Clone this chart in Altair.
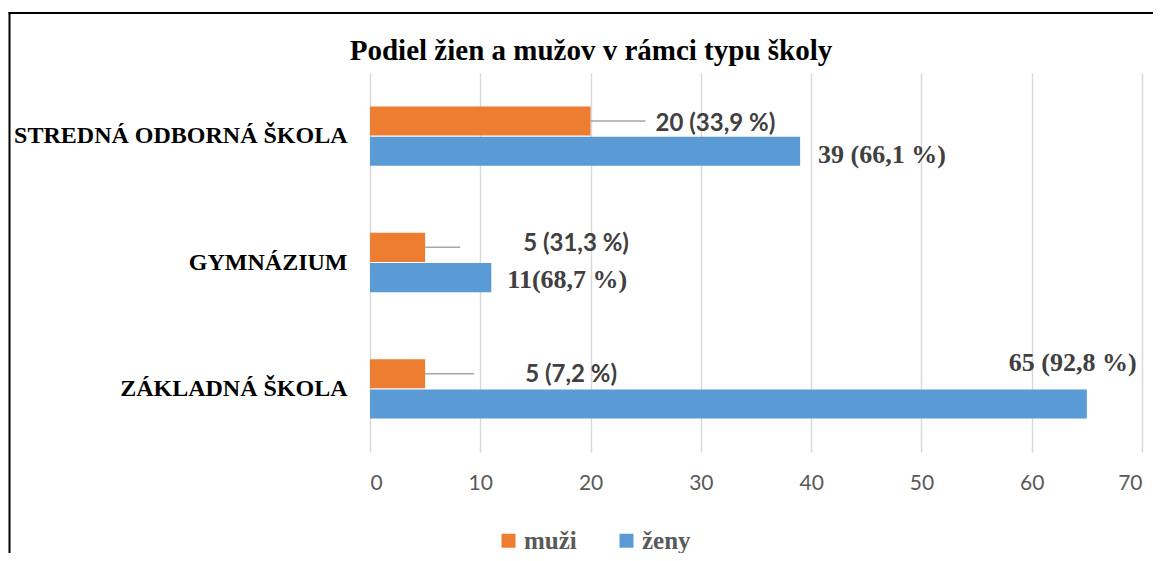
import altair as alt
import pandas as pd

# ---- data ----
categories = ["STREDNÁ ODBORNÁ ŠKOLA", "GYMNÁZIUM", "ZÁKLADNÁ ŠKOLA"]
series = ["muži", "ženy"]
muzi_values = [20, 5, 5]
zeny_values = [39, 11, 65]
muzi_labels = ["20 (33,9 %)", "5 (31,3 %)", "5 (7,2 %)"]
zeny_labels = ["39 (66,1 %)", "11(68,7 %)", "65 (92,8 %)"]
x_ticks = [0, 10, 20, 30, 40, 50, 60, 70]
title_text = "Podiel žien a mužov v rámci typu školy"

rows = []
for i, c in enumerate(categories):
    rows.append({"cat": c, "series": "muži", "value": muzi_values[i], "label": muzi_labels[i]})
    rows.append({"cat": c, "series": "ženy", "value": zeny_values[i], "label": zeny_labels[i]})
df = pd.DataFrame(rows)

# ---- style ----
COLORS = ["#ED7D31", "#5B9BD5"]
PLOT_W, PLOT_H = 772, 379
# label offsets (pixels) relative to bar end / bar centre
LABEL_OFFSETS = {
    (categories[0], "muži"): (65, 3),
    (categories[0], "ženy"): (18, 4),
    (categories[1], "muži"): (98, -3),
    (categories[1], "ženy"): (16, 2),
    (categories[2], "muži"): (100, 1),
    (categories[2], "ženy"): (-78, -41),
}
LEADER_LEN = {categories[0]: 55, categories[1]: 35, categories[2]: 49}
LEADER_DY = {categories[0]: 1, categories[1]: -4, categories[2]: 0}

y_enc = alt.Y("cat:N", sort=categories, title=None,
              scale=alt.Scale(paddingInner=0.53, paddingOuter=0.265),
              axis=alt.Axis(labelFont="Liberation Serif", labelFontWeight="bold",
                            labelFontSize=24, labelColor="#000000", labelPadding=23,
                            ticks=False, domain=False, grid=False, labelLimit=500))
yoff_enc = alt.YOffset("series:N", sort=series,
                       scale=alt.Scale(paddingInner=0.04, paddingOuter=0))
x_enc = alt.X("value:Q", title=None,
              scale=alt.Scale(domain=[0, 70], nice=False),
              axis=alt.Axis(values=x_ticks, grid=True, gridColor="#d9d9d9", gridWidth=1.5,
                            domain=False, ticks=False, labelFont="Lato", labelFontSize=21,
                            labelColor="#595959", labelPadding=20))

base = alt.Chart(df)

bars = base.mark_bar().encode(
    x=x_enc,
    y=y_enc,
    yOffset=yoff_enc,
    color=alt.Color("series:N", sort=series,
                    scale=alt.Scale(domain=series, range=COLORS),
                    legend=alt.Legend(title=None, orient="none", legendX=126, legendY=455,
                                      direction="horizontal", symbolType="square",
                                      symbolSize=196, symbolStrokeWidth=0,
                                      labelFont="Liberation Serif", labelFontWeight="bold",
                                      labelFontSize=25, labelColor="#595959",
                                      columnPadding=37, labelOffset=3, padding=0)),
)

layers = [bars]

# leader lines for muži labels
for c in categories:
    layers.append(
        base.transform_filter((alt.datum.cat == c) & (alt.datum.series == "muži"))
        .mark_rule(color="#a6a6a6", strokeWidth=1.5, x2Offset=LEADER_LEN[c],
                   yOffset=LEADER_DY[c], y2Offset=LEADER_DY[c])
        .encode(x="value:Q", x2="value:Q", y=alt.Y("cat:N", sort=categories),
                yOffset=alt.YOffset("series:N", sort=series))
    )

# data labels
for (c, s), (dx, dy) in LABEL_OFFSETS.items():
    if s == "muži":
        font, size = "Lato", 24
    else:
        font, size = "Liberation Serif", 26
    layers.append(
        base.transform_filter((alt.datum.cat == c) & (alt.datum.series == s))
        .mark_text(align="left", baseline="middle", dx=dx, dy=dy, font=font,
                   fontSize=size, fontWeight="bold", color="#404040")
        .encode(x="value:Q", y=alt.Y("cat:N", sort=categories),
                yOffset=alt.YOffset("series:N", sort=series), text="label:N")
    )

one_row = pd.DataFrame({"t": [title_text]})

# chart title
layers.append(alt.Chart(one_row).mark_text(
    font="Liberation Serif", fontSize=29, fontWeight="bold", color="#000000",
    align="center", baseline="alphabetic").encode(
    x=alt.value(221), y=alt.value(-13), text="t:N"))

# outer frame (left and top border)
layers.append(alt.Chart(one_row).mark_rule(color="#000000", strokeWidth=2).encode(
    x=alt.value(-360.5), y=alt.value(-61), y2=alt.value(520)))
layers.append(alt.Chart(one_row).mark_rule(color="#000000", strokeWidth=2).encode(
    x=alt.value(-361.5), x2=alt.value(820), y=alt.value(-60)))

chart = alt.layer(*layers).properties(
    width=PLOT_W, height=PLOT_H,
    autosize=alt.AutoSizeParams(type="none"),
    padding={"left": 362, "top": 65, "right": 11, "bottom": 101},
).configure(background="#ffffff").configure_view(stroke=None)

chart.save("out.html", embed_options={"renderer": "svg", "actions": False})
